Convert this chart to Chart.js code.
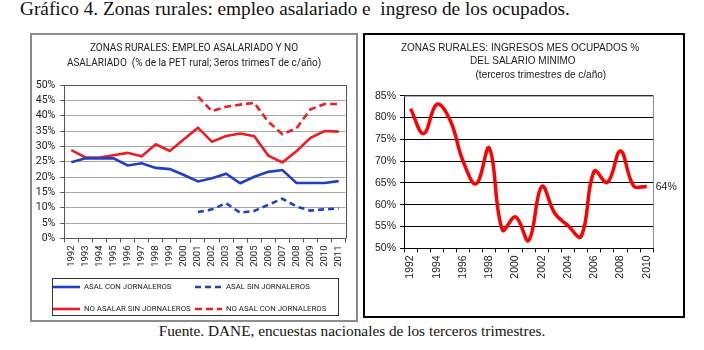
<!DOCTYPE html>
<html>
<head>
<meta charset="utf-8">
<script src="https://cdn.jsdelivr.net/npm/chart.js@4.4.1/dist/chart.umd.min.js"></script>
<style>
body{margin:0;width:704px;height:350px;background:#fff;position:relative;overflow:hidden;font-family:'Liberation Serif','Times New Roman',serif;color:#111;}
#titulo{position:absolute;left:20px;top:-2px;font-size:19.3px;white-space:pre;}
#fuente{position:absolute;left:0;width:704px;top:322px;text-align:center;font-size:15.3px;}
canvas{position:absolute;}
#graf1{left:30px;top:33px;}
#graf2{left:363px;top:33px;}
.marco{position:absolute;box-sizing:border-box;pointer-events:none;}
#marco1{left:30px;top:33px;width:328px;height:289px;border:2px solid #8c8c8c;}
#marco2{left:363px;top:33px;width:322px;height:285px;border:2px solid #000;}
</style>
</head>
<body>
<div id="titulo">Gráfico 4. Zonas rurales: empleo asalariado e  ingreso de los ocupados.</div>
<canvas id="graf1" width="328" height="289"></canvas>
<canvas id="graf2" width="322" height="285"></canvas>
<div class="marco" id="marco1"></div>
<div class="marco" id="marco2"></div>
<div id="fuente">Fuente. DANE, encuestas nacionales de los terceros trimestres.</div>
<script>
// datos grafico izquierdo (% de la PET rural)
var anios1 = ['1992','1993','1994','1995','1996','1997','1998','1999','2000','2001','2002','2003','2004','2005','2006','2007','2008','2009','2010','2011'];
var asalConJornaleros = [24.8,26.1,26.1,26.1,23.8,24.5,23.0,22.6,20.7,18.6,19.6,21.1,18.0,20.1,21.7,22.3,18.1,18.1,18.1,18.7];
var asalSinJornaleros = [null,null,null,null,null,null,null,null,null,8.6,9.5,11.5,8.4,9.0,11.0,13.0,10.4,9.1,9.5,9.8];
var noAsalarSinJornaleros = [28.8,26.4,26.4,27.1,27.9,26.8,30.7,28.5,32.3,36.1,31.5,33.4,34.2,33.3,27.0,24.8,28.4,32.8,35.0,34.8];
var noAsalConJornaleros = [null,null,null,null,null,null,null,null,null,46.2,41.5,42.9,43.6,44.2,38.0,34.0,35.9,42.1,43.8,43.8];

// datos grafico derecho (% del salario minimo)
var anios2 = ['1992','1993','1994','1995','1996','1997','1998','1999','2000','2001','2002','2003','2004','2005','2006','2007','2008','2009','2010'];
var ingresoOcupados = [82.0,76.3,83.0,79.5,70.0,64.8,73.0,54.2,57.2,51.8,64.2,58.0,55.2,52.7,67.7,65.1,72.3,64.3,64.2];

var rojo = '#ee1c24', azul = '#1f3fc4';
var fuenteCal = 'Roboto, "Open Sans", sans-serif';
var fuenteArial = '"Liberation Sans", Arial, sans-serif';

function $each(arr, fn){ for (var i = 0; i < arr.length; i++) fn(arr[i], i); }

var marcoPlot = {
    id: 'marcoPlot',
    beforeDatasetsDraw: function(chart, args, opts){
        var a = chart.chartArea, ctx = chart.ctx;
        ctx.save();
        ctx.strokeStyle = opts.color;
        ctx.lineWidth = 1;
        ctx.beginPath();
        ctx.moveTo(a.left, a.top + 0.5);
        ctx.lineTo(Math.round(a.right) + 0.5, a.top + 0.5);
        ctx.lineTo(Math.round(a.right) + 0.5, a.bottom);
        ctx.stroke();
        ctx.restore();
    }
};

var leyendaCaja = {
    id: 'leyendaCaja',
    afterDraw: function(chart, args, opts){
        if (!opts.show) return;
        var ctx = chart.ctx, ds = chart.data.datasets;
        ctx.save();
        ctx.strokeStyle = '#333';
        ctx.lineWidth = 1;
        ctx.strokeRect(opts.left + 0.5, opts.top + 0.5, opts.width, opts.height);
        ctx.font = opts.font;
        ctx.textBaseline = 'middle';
        $each(ds, function(d, i){
            var col = i % 2, fila = Math.floor(i / 2);
            var x = opts.left + 1 + col * opts.colWidth;
            var y = opts.top + opts.rowTop + fila * opts.rowGap;
            ctx.strokeStyle = d.borderColor;
            ctx.lineWidth = d.borderWidth;
            ctx.setLineDash(d.borderDash || []);
            ctx.beginPath();
            ctx.moveTo(x, y);
            ctx.lineTo(x + 27, y);
            ctx.stroke();
            ctx.setLineDash([]);
            ctx.fillStyle = '#222';
            ctx.fillText(d.label, x + 31, y + 0.5);
        });
        ctx.restore();
    }
};

var etiquetaFinal = {
    id: 'etiquetaFinal',
    afterDatasetsDraw: function(chart, args, opts){
        if (!opts.show) return;
        var meta = chart.getDatasetMeta(0);
        var vals = chart.data.datasets[0].data;
        var p = meta.data[meta.data.length - 1];
        var ctx = chart.ctx;
        ctx.save();
        ctx.font = opts.font;
        ctx.fillStyle = '#222';
        ctx.textBaseline = 'middle';
        ctx.fillText(Math.round(vals[vals.length - 1]) + '%', p.x + 9, p.y + 1);
        ctx.restore();
    }
};

var crearSerie = function(label, data, color, dash){
    return {
        label: label,
        data: data,
        borderColor: color,
        backgroundColor: color,
        borderWidth: 2.6,
        borderDash: dash,
        pointRadius: 0,
        tension: 0,
        spanGaps: false
    };
};

// eje vacio a la derecha: deja el hueco sin descentrar el titulo
var ejeHueco = function(ancho){
    return {
        position: 'right',
        display: true,
        grid: { display: false, drawTicks: false },
        border: { display: false },
        ticks: { display: false },
        afterFit: function(s){ s.width = ancho; }
    };
};

var graf1 = new Chart(document.getElementById('graf1'), {
    type: 'line',
    data: {
        labels: anios1,
        datasets: [
            crearSerie('ASAL CON JORNALEROS', asalConJornaleros, azul, []),
            crearSerie('ASAL SIN JORNALEROS', asalSinJornaleros, azul, [6, 4]),
            crearSerie('NO ASALAR SIN JORNALEROS', noAsalarSinJornaleros, rojo, []),
            crearSerie('NO ASAL CON JORNALEROS', noAsalConJornaleros, rojo, [7, 4])
        ]
    },
    options: {
        responsive: false,
        animation: false,
        layout: { padding: { left: 0, right: 0, top: 0, bottom: 43.5 } },
        plugins: {
            legend: { display: false },
            tooltip: { enabled: false },
            title: {
                display: true,
                text: ['ZONAS RURALES: EMPLEO ASALARIADO Y NO', 'ASALARIADO  (% de la PET rural; 3eros trimesT de c/año)'],
                color: '#222',
                font: { family: fuenteCal, size: 10, weight: 'normal', lineHeight: 1.5 },
                padding: { top: 7.5, bottom: 14.5 }
            },
            marcoPlot: { color: '#555' },
            leyendaCaja: { show: true, left: 22, top: 245, width: 286, height: 37, colWidth: 142, rowTop: 9, rowGap: 22, font: '7.8px ' + fuenteCal },
            etiquetaFinal: { show: false }
        },
        scales: {
            x: {
                offset: true,
                grid: { offset: true, drawOnChartArea: false, tickLength: 4, color: '#555' },
                border: { color: '#555' },
                ticks: { minRotation: 90, maxRotation: 90, autoSkip: false, padding: 3, color: '#222', font: { family: fuenteCal, size: 9.5 } },
                afterFit: function(s){ s.height = 40; }
            },
            y: {
                min: 0, max: 50,
                grid: { color: '#a6a6a6', tickLength: 4, tickColor: '#555' },
                border: { color: '#555' },
                ticks: { stepSize: 5, autoSkip: false, padding: 5, color: '#222', font: { family: fuenteCal, size: 10.5 }, callback: function(v){ return v + '%'; } },
                afterFit: function(s){ s.width = 34.3; }
            },
            hueco: ejeHueco(12.3)
        }
    },
    plugins: [marcoPlot, leyendaCaja, etiquetaFinal]
});

var graf2 = new Chart(document.getElementById('graf2'), {
    type: 'line',
    data: {
        labels: anios2,
        datasets: [{
            label: 'Ingresos mes ocupados',
            data: ingresoOcupados,
            borderColor: '#ff0000',
            borderWidth: 3.5,
            pointRadius: 0,
            tension: 0.4
        }]
    },
    options: {
        responsive: false,
        animation: false,
        layout: { padding: { left: 0, right: 8, top: 0, bottom: 24.7 } },
        plugins: {
            legend: { display: false },
            tooltip: { enabled: false },
            title: {
                display: true,
                text: ['ZONAS RURALES: INGRESOS MES OCUPADOS %', '  DEL SALARIO MINIMO', '               (terceros trimestres de c/año)'],
                color: '#222',
                font: { family: fuenteArial, size: 10, weight: 'normal', lineHeight: 1.35 },
                padding: { top: 8.25, bottom: 13.95 }
            },
            marcoPlot: { color: '#8c8c8c' },
            leyendaCaja: { show: false },
            etiquetaFinal: { show: true, font: '10.5px ' + fuenteArial }
        },
        scales: {
            x: {
                offset: true,
                grid: { offset: true, drawOnChartArea: false, tickLength: 4, color: '#000' },
                border: { color: '#000' },
                ticks: {
                    minRotation: 90, maxRotation: 90, autoSkip: false, padding: 3, color: '#222',
                    font: { family: fuenteArial, size: 10.5 },
                    callback: function(v, i){ return i % 2 === 0 ? this.getLabelForValue(v) : ''; }
                },
                afterFit: function(s){ s.height = 45; }
            },
            y: {
                min: 50, max: 85,
                grid: { color: '#000', tickLength: 4 },
                border: { color: '#000' },
                ticks: { stepSize: 5, padding: 4, color: '#222', font: { family: fuenteArial, size: 10.5 }, callback: function(v){ return v + '%'; } },
                afterFit: function(s){ s.width = 41; }
            },
            hueco: ejeHueco(23.7)
        }
    },
    plugins: [marcoPlot, leyendaCaja, etiquetaFinal]
});
</script>
</body>
</html>
